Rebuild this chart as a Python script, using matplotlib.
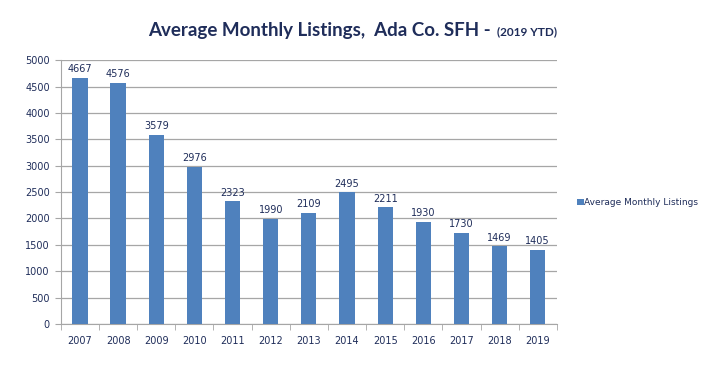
import numpy as np
import matplotlib.pyplot as plt

anos = ['2007', '2008', '2009', '2010', '2011', '2012', '2013',
        '2014', '2015', '2016', '2017', '2018', '2019']
listagens = [4667, 4576, 3579, 2976, 2323, 1990, 2109,
             2495, 2211, 1930, 1730, 1469, 1405]

cor_texto = '#1F2D5A'
cor_barra = '#4F81BD'

plt.rcParams['font.family'] = ['DejaVu Sans']

fig = plt.figure(figsize=(7.25, 3.69), dpi=100)
ax = fig.add_axes([0.084, 0.122, 0.684, 0.715])

x = np.arange(len(anos))
barras = ax.bar(x, listagens, width=0.4, color=cor_barra, zorder=3,
                label='Average Monthly Listings')

for xi, v in zip(x, listagens):
    ax.text(xi, v + 70, str(v), ha='center', va='bottom', fontsize=7,
            color=cor_texto)

ax.set_xlim(-0.5, len(anos) - 0.5)
ax.set_ylim(0, 5000)
ax.set_yticks(range(0, 5001, 500))
ax.yaxis.grid(True, color='#A6A6A6', linewidth=0.9, zorder=0)

ax.set_xticks(x)
ax.set_xticklabels(anos, fontsize=7, color=cor_texto)
ax.set_xticks(np.arange(-0.5, len(anos), 1), minor=True)
ax.tick_params(axis='x', which='major', length=0, pad=9)
ax.tick_params(axis='x', which='minor', length=4, color='#A6A6A6')
ax.tick_params(axis='y', length=4, color='#A6A6A6', labelsize=7,
               labelcolor=cor_texto, pad=4)

for s in ['top', 'right']:
    ax.spines[s].set_visible(False)
for s in ['left', 'bottom']:
    ax.spines[s].set_color('#A6A6A6')

fig.text(0.683, 0.918, 'Average Monthly Listings,  Ada Co. SFH - ',
         ha='right', va='center', fontsize=13.5, fontweight='bold',
         color=cor_texto, family='Lato')
fig.text(0.685, 0.914, '(2019 YTD)', ha='left', va='center', fontsize=8.5,
         fontweight='bold', color=cor_texto, family='Lato')

fig.legend(handles=[barras], loc='center left', bbox_to_anchor=(0.785, 0.45),
           frameon=False, fontsize=6.5, handlelength=0.7, handleheight=0.7,
           handletextpad=0.1, labelcolor=cor_texto)

fig.savefig('out.png', dpi=100)
